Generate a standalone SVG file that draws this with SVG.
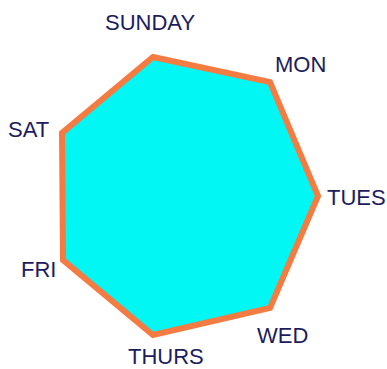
<svg xmlns="http://www.w3.org/2000/svg" width="387" height="369" viewBox="0 0 387 369">
<style>
.lbl{font-family:"Liberation Sans",Arial,sans-serif;font-size:22px;fill:#1c1c5e}
.shape{fill:#00f7f4;stroke:#f47c42;stroke-width:6;stroke-linejoin:miter}
</style>
<rect width="387" height="369" fill="#fff"/>
<g id="heptagon">
<polygon class="shape" points="153,57 270,82 318,196 270,308 153,335 63,260 62,133"/>
</g>
<g id="connectors"></g>
<g id="sunday"><text class="lbl" x="105" y="30">SUNDAY</text></g>
<g id="mon"><text class="lbl" x="275" y="72">MON</text></g>
<g id="tues"><text class="lbl" x="327" y="205">TUES</text></g>
<g id="wed"><text class="lbl" x="257" y="343">WED</text></g>
<g id="thurs"><text class="lbl" x="128" y="364">THURS</text></g>
<g id="fri"><text class="lbl" x="21" y="277">FRI</text></g>
<g id="sat"><text class="lbl" x="8" y="137">SAT</text></g>
</svg>
